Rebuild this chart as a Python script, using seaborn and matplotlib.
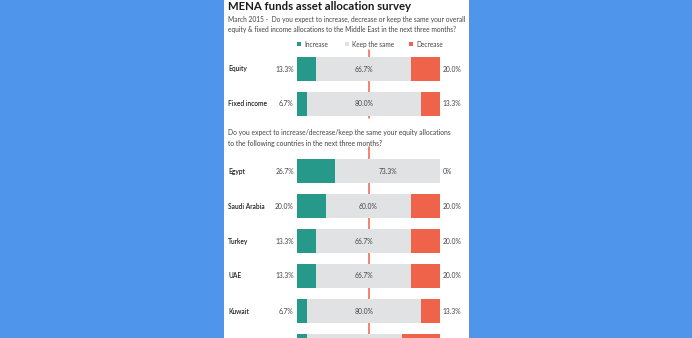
import matplotlib
matplotlib.use("Agg")
import matplotlib.pyplot as plt
import seaborn as sns
import pandas as pd
import numpy as np
from matplotlib.patches import Rectangle

sns.set_theme(style="white")
plt.rcParams['font.family'] = ['Lato', 'DejaVu Sans']

# ---------------- data ----------------
title = "MENA funds asset allocation survey"
subtitle = ("March 2015 -  Do you expect to increase, decrease or keep the same your overall\n"
            "equity & fixed income allocations to the Middle East in the next three months?")
question2 = ("Do you expect to increase/decrease/keep the same your equity allocations\n"
             "to the following countries in the next three months?")
legend_labels = ["Increase", "Keep the same", "Decrease"]

overall_cats = ["Equity", "Fixed income"]
overall_inc = [13.3, 6.7]
overall_keep = [66.7, 80.0]
overall_dec = [20.0, 13.3]

country_cats = ["Egypt", "Saudi Arabia", "Turkey", "UAE", "Kuwait", "Qatar"]
country_inc = [26.7, 20.0, 13.3, 13.3, 6.7, 6.7]
country_keep = [73.3, 60.0, 66.7, 66.7, 80.0, 66.7]
country_dec = [0.0, 20.0, 20.0, 20.0, 13.3, 26.7]
country_dec_labels = ["0%", "20.0%", "20.0%", "20.0%", "13.3%", "26.7%"]

GREEN = "#26998A"
GREY = "#E1E2E4"
RED = "#EE634A"
BLUE = "#4F95EB"
MID = "#F0604C"

W, H = 692, 338
fig = plt.figure(figsize=(W / 100, H / 100), dpi=100, facecolor=BLUE)

def fx(px):
    return px / W

def fy(py):
    return 1 - py / H

# white panel
fig.add_artist(Rectangle((fx(224), 0), fx(469) - fx(224), 1, transform=fig.transFigure,
                         facecolor="white", edgecolor="none", zorder=0))

# titles
fig.text(fx(228), fy(6), title, fontsize=8.2, fontweight="bold", color="#1a1a1a",
         ha="left", va="center")
fig.text(fx(228), fy(24.5), subtitle, fontsize=4.8, color="#444444", ha="left",
         va="center", linespacing=1.6)
fig.text(fx(228), fy(138), question2, fontsize=4.85, color="#444444", ha="left",
         va="center", linespacing=1.6)

# legend
leg_x = [297.3, 345, 409.3]
leg_c = [GREEN, GREY, RED]
for lx, lc, lt in zip(leg_x, leg_c, legend_labels):
    fig.add_artist(Rectangle((fx(lx), fy(46.2)), 4 / W, 4 / H, transform=fig.transFigure,
                             facecolor=lc, edgecolor="none"))
    fig.text(fx(lx + 7), fy(44.2), lt, fontsize=4.7, color="#444444", ha="left", va="center")


def draw_panel(ax, cats, inc, keep, dec, top_px, dec_labels=None, line_ext=(0.0, 1.0)):
    inc = np.array(inc)
    keep = np.array(keep)
    dec = np.array(dec)
    df = pd.DataFrame({"cat": cats, "total": inc + keep + dec, "ik": inc + keep, "inc": inc})
    ax.axvline(50, ymin=line_ext[0], ymax=line_ext[1], color=MID, lw=1.1, zorder=0,
               clip_on=False)
    sns.barplot(data=df, x="total", y="cat", orient="h", color=RED, width=0.714,
                saturation=1, ax=ax, zorder=2, linewidth=0)
    sns.barplot(data=df, x="ik", y="cat", orient="h", color=GREY, width=0.714,
                saturation=1, ax=ax, zorder=3, linewidth=0)
    sns.barplot(data=df, x="inc", y="cat", orient="h", color=GREEN, width=0.714,
                saturation=1, ax=ax, zorder=4, linewidth=0)
    ax.set_xlim(0, 100)
    ax.set_ylim(len(cats) - 0.5, -0.5)
    ax.set_axis_off()
    for i, c in enumerate(cats):
        # row centre in pixels; rows beyond the bottom edge show only their bar
        if top_px + 17.5 + 35 * i > H - 4:
            continue
        ax.text(-48.2, i, c, fontsize=4.8, fontweight="semibold", color="#222222",
                ha="left", va="center")
        ax.text(-2.2, i, f"{inc[i]:.1f}%", fontsize=4.9, color="#444444", ha="right",
                va="center")
        ax.text(inc[i] + keep[i] / 2, i, f"{keep[i]:.1f}%", fontsize=4.9, color="#444444",
                ha="center", va="center", zorder=6)
        lab = dec_labels[i] if dec_labels is not None else f"{dec[i]:.1f}%"
        ax.text(101.6, i, lab, fontsize=4.9, color="#444444", ha="left", va="center")


ax1 = fig.add_axes([fx(297), fy(121.5), 143 / W, 70 / H])
draw_panel(ax1, overall_cats, overall_inc, overall_keep, overall_dec, 51.5,
           line_ext=(0.05, 1.015))

ax2 = fig.add_axes([fx(297), fy(363.5), 143 / W, 210 / H])
draw_panel(ax2, country_cats, country_inc, country_keep, country_dec, 153.5,
           dec_labels=country_dec_labels, line_ext=(0.0, 1.031))

fig.savefig("out.png", dpi=100, facecolor=BLUE)
